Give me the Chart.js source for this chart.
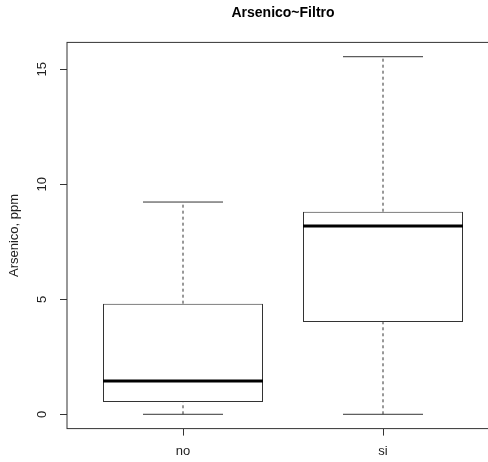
<!DOCTYPE html>
<html>
<head>
<meta charset="utf-8">
<script src="https://cdn.jsdelivr.net/npm/chart.js@4"></script>
<style>
  html, body { margin: 0; padding: 0; background: #fff; overflow: hidden; }
  #wrap { width: 520px; height: 462px; }
</style>
</head>
<body>
<div id="wrap"><canvas id="myChart" width="520" height="462"></canvas></div>
<script>
// datos del boxplot Arsenico ~ Filtro
const grupos = ["no", "si"]
const bigoteInf = [0, 0]
const cuartil1 = [0.53, 4.01]
const mediana = [1.45, 8.19]
const cuartil3 = [4.81, 8.81]
const bigoteSup = [9.23, 15.55]
const ticksY = [0, 5, 10, 15]

// tamaños (en unidades del eje x)
const medioCaja = 0.4
const medioTope = 0.2

const gris = "#333"
const fuente = "'Liberation Sans', Arial, Helvetica, sans-serif"

// lineas: medianas, bigotes y topes
let puntosMediana = []
let puntosBigote = []
let puntosTope = []
grupos.forEach(function (g, i) {
  let x = i + 1
  puntosMediana.push({x: x - medioCaja, y: mediana[i]}, {x: x + medioCaja, y: mediana[i]}, {x: x, y: null})
  puntosBigote.push({x: x, y: cuartil3[i]}, {x: x, y: bigoteSup[i]}, {x: x, y: null})
  puntosBigote.push({x: x, y: bigoteInf[i]}, {x: x, y: cuartil1[i]}, {x: x, y: null})
  puntosTope.push({x: x - medioTope, y: bigoteSup[i]}, {x: x + medioTope, y: bigoteSup[i]}, {x: x, y: null})
  puntosTope.push({x: x - medioTope, y: bigoteInf[i]}, {x: x + medioTope, y: bigoteInf[i]}, {x: x, y: null})
})

// R extiende los ejes un 4%
const rangoY = Math.max(...bigoteSup) - Math.min(...bigoteInf)
const minY = Math.min(...bigoteInf) - 0.04 * rangoY
const maxY = Math.max(...bigoteSup) + 0.04 * rangoY
const minX = 0.5 - 0.04 * grupos.length
const maxX = grupos.length + 0.5 + 0.04 * grupos.length

const marco = {
  id: "marco",
  afterDatasetsDraw(chart) {
    const a = chart.chartArea
    const ctx = chart.ctx
    ctx.save()
    ctx.strokeStyle = gris
    ctx.lineWidth = 1
    ctx.strokeRect(a.left, a.top, a.right - a.left, a.bottom - a.top)
    ctx.restore()
  }
}

const grafico = new Chart("myChart", {
  type: "bar",
  data: {
    datasets: [{
        type: "bar",
        data: grupos.map(function (g, i) { return {x: i + 1, y: [cuartil1[i], cuartil3[i]]} }),
        backgroundColor: "#fff",
        borderColor: gris,
        borderWidth: 1,
        borderSkipped: false,
        categoryPercentage: 0.8,
        barPercentage: 1,
        order: 3
      },{
        type: "line",
        data: puntosBigote,
        borderColor: gris,
        borderWidth: 1,
        borderDash: [3, 3],
        pointRadius: 0,
        spanGaps: false,
        order: 2
      },{
        type: "line",
        data: puntosTope,
        borderColor: gris,
        borderWidth: 1,
        pointRadius: 0,
        spanGaps: false,
        order: 2
      },{
        type: "line",
        data: puntosMediana,
        borderColor: "#000",
        borderWidth: 3,
        pointRadius: 0,
        spanGaps: false,
        order: 1
      }
    ]
  },
  options: {
    responsive: false,
    animation: false,
    events: [],
    layout: { padding: { left: 0, right: 21, top: 0, bottom: 0 } },
    plugins: {
      legend: { display: false },
      tooltip: { enabled: false },
      title: {
        display: true,
        text: "Arsenico~Filtro",
        fullSize: false,
        color: "#000",
        font: { family: fuente, size: 14, weight: "bold" },
        padding: { top: 5, bottom: 20.6 }
      }
    },
    scales: {
      x: {
        type: "linear",
        min: minX,
        max: maxX,
        offset: false,
        afterBuildTicks: function (eje) { eje.ticks = grupos.map(function (g, i) { return {value: i + 1} }) },
        afterFit: function (eje) { eje.height = 33.4 },
        ticks: {
          color: "#222",
          padding: 8,
          maxRotation: 0,
          font: { family: fuente, size: 13 },
          callback: function (v) { return grupos[Math.round(v) - 1] }
        },
        grid: { offset: false, drawOnChartArea: false, color: gris, tickLength: 7 },
        border: { display: false }
      },
      y: {
        min: minY,
        max: maxY,
        afterBuildTicks: function (eje) { eje.ticks = ticksY.map(function (v) { return {value: v} }) },
        afterFit: function (eje) { eje.width = 67 },
        ticks: {
          color: "#222",
          padding: 10,
          minRotation: 90,
          maxRotation: 90,
          crossAlign: "center",
          font: { family: fuente, size: 13 }
        },
        grid: { drawOnChartArea: false, color: gris, tickLength: 7 },
        border: { display: false },
        title: {
          display: true,
          text: "Arsenico, ppm",
          color: "#222",
          font: { family: fuente, size: 13 },
          padding: { top: 7, bottom: 0 }
        }
      }
    }
  },
  plugins: [marco]
})
</script>
</body>
</html>
